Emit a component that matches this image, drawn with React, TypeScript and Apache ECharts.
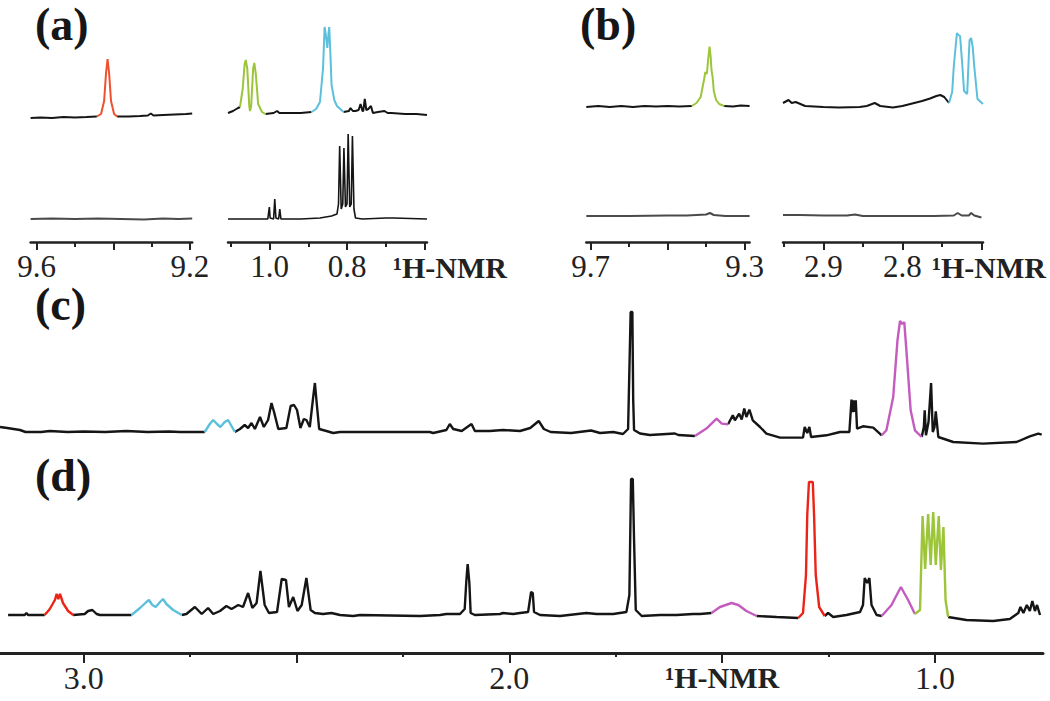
import React, { useEffect, useRef } from "react";
import * as echarts from "echarts";

// ---------------- DATA (ppm, relative intensity) ----------------
// (a) left window 9.616–9.194 ppm
const aLeftTopBlack1 = [[9.616,0],[9.59,0.5],[9.56,0],[9.53,1],[9.5,0.5],[9.47,1],[9.443,1.5]];
const aLeftTopRed = [[9.443,1.5],[9.432,4],[9.424,17],[9.419,45],[9.415,59],[9.411,45],[9.406,17],[9.398,4],[9.39,1.5]];
const aLeftTopBlack2 = [[9.39,1.5],[9.36,1.5],[9.33,2],[9.31,2.5],[9.302,4.5],[9.295,2.5],[9.27,3],[9.24,3.5],[9.21,4],[9.194,4.5]];
const aLeftBottom = [[9.616,0],[9.56,0.5],[9.5,0],[9.44,0.5],[9.38,0],[9.32,-0.5],[9.27,0.5],[9.23,0],[9.194,0.5]];
// (a) right window 1.108–0.593 ppm
const aRightTopBlack1 = [[1.108,1],[1.095,3],[1.082,6],[1.077,7]];
const aRightTopGreen = [[1.077,7],[1.07,25],[1.065,50],[1.062,54],[1.058,45],[1.053,8],[1.051,3],[1.048,8],[1.043,45],[1.04,51],[1.036,40],[1.03,10],[1.02,2],[1.011,0]];
const aRightTopBlack2 = [[1.011,0],[0.99,1],[0.981,3],[0.975,1],[0.95,1],[0.92,1],[0.892,2]];
const aRightTopCyan = [[0.892,2],[0.88,5],[0.87,12],[0.862,46],[0.858,87],[0.855,80],[0.851,66],[0.848,80],[0.846,87],[0.843,60],[0.84,29],[0.833,14],[0.826,8],[0.809,2]];
const aRightTopBlack3 = [[0.809,2],[0.795,3],[0.791,6],[0.785,3],[0.778,3],[0.77,4],[0.765,10],[0.76,3],[0.758,3],[0.754,15],[0.75,4],[0.745,5],[0.738,8],[0.733,1],[0.72,2],[0.703,3],[0.695,1],[0.685,1],[0.65,0],[0.62,0],[0.593,-1]];
const aRightBottom = [[1.108,0],[1.05,0],[1.005,0],[1.001,12],[0.999,1],[0.99,0],[0.987,20],[0.984,1],[0.977,0],[0.974,10],[0.971,0],[0.92,0],[0.87,1],[0.84,3],[0.826,5],[0.822,15],[0.819,73],[0.815,10],[0.811,15],[0.808,71],[0.804,12],[0.8,15],[0.797,85],[0.793,12],[0.789,15],[0.786,83],[0.782,10],[0.778,1],[0.76,0],[0.7,1],[0.68,1],[0.593,0]];
// (b) left window 9.711–9.287 ppm
const bLeftTopBlack1 = [[9.711,0],[9.68,1],[9.65,0],[9.62,1],[9.59,0],[9.56,1],[9.53,0.5],[9.5,1],[9.47,0.5],[9.437,1]];
const bLeftTopGreen = [[9.437,1],[9.425,4],[9.414,10],[9.405,28],[9.402,35],[9.398,33],[9.394,50],[9.391,60.5],[9.388,50],[9.386,37],[9.383,30],[9.38,16],[9.374,7],[9.366,3],[9.353,1]];
const bLeftTopBlack2 = [[9.353,1],[9.33,0.5],[9.31,1.5],[9.287,1]];
const bLeftBottom = [[9.711,0],[9.6,0],[9.5,0.5],[9.45,0.5],[9.4,1.5],[9.39,3],[9.38,1],[9.35,0],[9.287,0]];
// (b) right window 2.951–2.698 ppm
const bRightTopBlack = [[2.951,4],[2.944,7],[2.94,4],[2.935,5],[2.923,1],[2.9,0],[2.88,-0.5],[2.854,0],[2.845,1],[2.835,4],[2.828,1],[2.812,-0.5],[2.8,1],[2.79,3],[2.775,6],[2.765,8.5],[2.757,11],[2.752,12],[2.747,10],[2.744,7],[2.741,4]];
const bRightTopCyan = [[2.741,4],[2.737,15],[2.735,40],[2.731,74],[2.729,72],[2.727,71],[2.724,40],[2.722,16],[2.718,13],[2.716,50],[2.715,67],[2.713,69],[2.711,60],[2.709,40],[2.705,8],[2.698,3]];
const bRightBottom = [[2.951,1],[2.93,1],[2.9,0.5],[2.87,0.5],[2.86,1.5],[2.85,0],[2.8,0],[2.76,0],[2.735,0.5],[2.73,3],[2.725,0.5],[2.716,0.5],[2.713,3],[2.709,0.5],[2.7,-1.5]];
// (c) 3.197–0.746 ppm
const cBlack1 = [[3.197,5],[3.18,4],[3.15,2],[3.137,0],[3.1,0],[3.08,1],[3.038,0],[3.0,0.5],[2.95,0],[2.9,1],[2.85,0],[2.8,0.5],[2.774,0],[2.74,0],[2.716,0]];
const cCyan = [[2.716,0],[2.704,8],[2.696,12],[2.687,8],[2.679,5],[2.669,10],[2.661,12],[2.653,6],[2.645,0]];
const cBlack2 = [[2.645,0],[2.633,3],[2.622,7],[2.614,4],[2.606,9],[2.598,3],[2.586,15],[2.577,5],[2.567,12],[2.559,29],[2.553,20],[2.543,3],[2.524,4],[2.514,26],[2.506,27],[2.499,22],[2.491,4],[2.483,13],[2.477,12],[2.469,5],[2.461,35],[2.457,49],[2.453,30],[2.447,3],[2.43,1],[2.414,-1],[2.398,0],[2.3,0],[2.187,0],[2.179,-1],[2.148,2],[2.14,8],[2.132,3],[2.112,1],[2.089,8],[2.081,1],[2.046,1],[2.015,2],[1.975,1],[1.951,4],[1.931,11],[1.919,3],[1.903,0],[1.855,-1],[1.808,1.5],[1.787,-1],[1.756,0],[1.733,-2],[1.721,3],[1.715,120],[1.711,120],[1.709,32],[1.707,2],[1.693,-1.5],[1.67,-3],[1.611,-1.5],[1.603,-3],[1.564,-4]];
const cMagenta1 = [[1.564,-4],[1.537,3.4],[1.513,13.4],[1.501,8.4],[1.486,7.7]];
const cBlack3 = [[1.486,7.7],[1.475,16.7],[1.47,11.7],[1.46,18.4],[1.454,12.4],[1.448,23.4],[1.443,15],[1.436,22.4],[1.428,11.7],[1.411,5],[1.396,-1.6],[1.364,-5.6],[1.31,-5.6],[1.306,5],[1.3,-1],[1.295,5],[1.291,-5],[1.255,-3.3],[1.223,0],[1.201,0],[1.196,32.4],[1.193,20],[1.19,31.7],[1.188,20],[1.186,31.7],[1.183,3.4],[1.169,5.7],[1.145,4.4],[1.125,-3.3]];
const cMagenta2 = [[1.125,-3.3],[1.114,1.7],[1.098,35],[1.088,91.7],[1.082,111],[1.077,108],[1.072,110],[1.067,81.7],[1.057,21.7],[1.047,1.7],[1.031,-5]];
const cBlack4 = [[1.031,-5],[1.026,5],[1.024,21.7],[1.021,-3.3],[1.015,10],[1.009,49],[1.005,0],[1.001,5],[0.998,20.7],[0.992,-5],[0.957,-10],[0.887,-11.6],[0.808,-10],[0.777,-4.3],[0.757,-1.6],[0.749,-2.6]];
// (d) 3.197–0.746 ppm
const dBlack1 = [[3.178,0],[3.139,0],[3.135,2],[3.131,0],[3.092,0]];
const dRed1 = [[3.092,0],[3.08,6],[3.068,15],[3.064,21],[3.06,16],[3.056,21],[3.049,12],[3.037,4],[3.025,0]];
const dBlack2 = [[3.025,0],[2.998,1],[2.99,4],[2.98,5],[2.97,1],[2.962,0],[2.92,0],[2.888,0]];
const dCyan = [[2.888,0],[2.868,7],[2.853,13],[2.847,15],[2.839,10],[2.831,8],[2.821,13],[2.814,16],[2.806,11],[2.79,5],[2.77,0]];
const dBlack3 = [[2.77,0],[2.759,1],[2.739,8],[2.723,1],[2.708,7],[2.696,1],[2.68,4],[2.665,9],[2.653,6],[2.637,10],[2.626,8],[2.614,22],[2.604,7],[2.594,12],[2.585,44],[2.575,10],[2.565,2],[2.546,3],[2.535,36],[2.525,35],[2.518,8],[2.508,18],[2.498,4],[2.488,10],[2.477,37],[2.467,5],[2.457,2],[2.438,1],[2.418,2],[2.398,0],[2.367,-1],[2.351,0],[2.21,-1],[2.163,0],[2.148,1],[2.116,1],[2.105,6],[2.101,35],[2.098,51],[2.094,32],[2.091,2],[2.081,0],[2.022,1],[2.015,2],[1.991,1],[1.975,2],[1.956,3],[1.949,23],[1.945,22],[1.942,3],[1.928,0],[1.881,-1],[1.819,2],[1.795,1],[1.756,1],[1.725,3],[1.718,20],[1.714,136],[1.71,136],[1.707,75],[1.703,5],[1.689,-1],[1.646,0],[1.607,0],[1.568,1],[1.552,1],[1.525,2]];
const dMagenta1 = [[1.525,2],[1.505,8],[1.478,12],[1.462,10],[1.443,4],[1.419,-1]];
const dBlack4 = [[1.419,-1],[1.372,-2],[1.321,-3]];
const dRed2 = [[1.321,-3],[1.31,2],[1.303,40],[1.3,100],[1.296,133],[1.287,133],[1.284,100],[1.28,40],[1.272,8],[1.259,-1]];
const dBlack5 = [[1.259,-1],[1.251,2],[1.239,-2],[1.208,0],[1.176,3],[1.169,10],[1.165,37],[1.159,32],[1.154,37],[1.149,10],[1.137,0],[1.125,-1]];
const dMagenta2 = [[1.125,-1],[1.102,10],[1.08,28],[1.063,15],[1.047,1]];
const dGreen = [[1.047,1],[1.035,5],[1.029,99],[1.023,46],[1.016,101],[1.01,50],[1.004,103],[0.998,50],[0.991,99],[0.986,45],[0.98,88],[0.975,15],[0.969,-2]];
const dBlack6 = [[0.969,-2],[0.926,-5],[0.863,-6],[0.824,-4],[0.804,2],[0.799,8],[0.792,2],[0.784,10],[0.777,4],[0.771,14],[0.765,4],[0.76,10],[0.753,0]];

// ---------------- TICKS ----------------
const aLeftMajor = [9.6, 9.4, 9.2];
const aLeftMinor = [9.5, 9.3];
const aLeftLabels = [9.6, 9.2];
const aRightMajor = [1.0, 0.8, 0.6];
const aRightMinor = [1.1, 0.9, 0.7];
const aRightLabels = [1.0, 0.8];
const bLeftMajor = [9.7, 9.5, 9.3];
const bLeftMinor = [9.6, 9.4];
const bLeftLabels = [9.7, 9.3];
const bRightMajor = [2.9, 2.8, 2.7];
const bRightMinor = [2.95, 2.85, 2.75];
const bRightLabels = [2.9, 2.8];
const cdMajor = [3.0, 2.5, 2.0, 1.5, 1.0];
const cdMinor = [2.75, 2.25, 1.75, 1.25];
const cdLabels = [3.0, 2.0, 1.5, 1.0];
const AXIS_TITLE = "¹H-NMR";
const panelLetters = ["(a)", "(b)", "(c)", "(d)"];

// ---------------- STYLE ----------------
const FONT = "Liberation Serif";
const BLACK = "#151515";
const GRAY = "#4a4a4a";
const RED_A = "#f0502e";
const RED_D = "#ec2418";
const GREEN = "#9cc53a";
const CYAN = "#5cc0dc";
const MAGENTA = "#c45cbf";

type Seg = [number[][], string];
interface Panel { left: number; width: number; min: number; max: number; base: number; h: number; segs: Seg[]; lw?: number }
interface AxisSpec { left: number; width: number; min: number; max: number; y: number; major: number[]; minor: number[]; labels: number[]; fs: number; majLen: number; minLen: number; lw: number }

const A_L = { left: 30.6, width: 161.6, min: 9.194, max: 9.616 };
const A_R = { left: 228, width: 199, min: 0.593, max: 1.108 };
const B_L = { left: 586.3, width: 163.3, min: 9.287, max: 9.711 };
const B_R = { left: 783, width: 200, min: 2.698, max: 2.951 };
const CD = { left: 0, width: 1043, min: 0.746, max: 3.197 };

const panels: Panel[] = [
  { ...A_L, base: 118, h: 60, segs: [[aLeftTopBlack1, BLACK], [aLeftTopRed, RED_A], [aLeftTopBlack2, BLACK]] },
  { ...A_L, base: 219, h: 10, segs: [[aLeftBottom, GRAY]] },
  { ...A_R, base: 114, h: 90, segs: [[aRightTopBlack1, BLACK], [aRightTopGreen, GREEN], [aRightTopBlack2, BLACK], [aRightTopCyan, CYAN], [aRightTopBlack3, BLACK]] },
  { ...A_R, base: 219, h: 90, segs: [[aRightBottom, BLACK]], lw: 1.6 },
  { ...B_L, base: 107, h: 61, segs: [[bLeftTopBlack1, BLACK], [bLeftTopGreen, GREEN], [bLeftTopBlack2, BLACK]] },
  { ...B_L, base: 216, h: 10, segs: [[bLeftBottom, GRAY]] },
  { ...B_R, base: 107, h: 75, segs: [[bRightTopBlack, BLACK], [bRightTopCyan, CYAN]] },
  { ...B_R, base: 216, h: 10, segs: [[bRightBottom, GRAY]] },
  { ...CD, base: 432, h: 121, lw: 2.4, segs: [[cBlack1, BLACK], [cCyan, CYAN], [cBlack2, BLACK], [cMagenta1, MAGENTA], [cBlack3, BLACK], [cMagenta2, MAGENTA], [cBlack4, BLACK]] },
  { ...CD, base: 615, h: 136, lw: 2.4, segs: [[dBlack1, BLACK], [dRed1, RED_D], [dBlack2, BLACK], [dCyan, CYAN], [dBlack3, BLACK], [dMagenta1, MAGENTA], [dBlack4, BLACK], [dRed2, RED_D], [dBlack5, BLACK], [dMagenta2, MAGENTA], [dGreen, GREEN], [dBlack6, BLACK]] },
];

const axes: AxisSpec[] = [
  { ...A_L, y: 242, major: aLeftMajor, minor: aLeftMinor, labels: aLeftLabels, fs: 31, majLen: 8, minLen: 5, lw: 2.5 },
  { ...A_R, y: 242, major: aRightMajor, minor: aRightMinor, labels: aRightLabels, fs: 31, majLen: 8, minLen: 5, lw: 2.5 },
  { ...B_L, y: 242, major: bLeftMajor, minor: bLeftMinor, labels: bLeftLabels, fs: 31, majLen: 8, minLen: 5, lw: 2.5 },
  { ...B_R, y: 242, major: bRightMajor, minor: bRightMinor, labels: bRightLabels, fs: 31, majLen: 8, minLen: 5, lw: 2.5 },
  { ...CD, y: 653, major: cdMajor, minor: cdMinor, labels: cdLabels, fs: 32, majLen: 10, minLen: 4, lw: 3 },
];

function buildOption() {
  const grid: any[] = [];
  const xAxis: any[] = [];
  const yAxis: any[] = [];
  const series: any[] = [];

  panels.forEach((p) => {
    const gi = grid.length;
    grid.push({ left: p.left, top: p.base - p.h, width: p.width, height: p.h });
    const xi = xAxis.length;
    xAxis.push({ type: "value", gridIndex: gi, min: p.min, max: p.max, inverse: true, show: false });
    const yi = yAxis.length;
    yAxis.push({ type: "value", gridIndex: gi, min: 0, max: p.h, show: false });
    p.segs.forEach(([data, color]) => {
      series.push({
        type: "line", xAxisIndex: xi, yAxisIndex: yi, data, symbol: "none", showSymbol: false,
        clip: false, silent: true, smooth: false,
        lineStyle: { color, width: p.lw ?? 2 }, z: color === BLACK || color === GRAY ? 2 : 3,
      });
    });
  });

  axes.forEach((a) => {
    const gi = grid.length;
    grid.push({ left: a.left, top: a.y - 10, width: a.width, height: 10 });
    yAxis.push({ type: "value", gridIndex: gi, min: 0, max: 1, show: false });
    const common = { type: "value", gridIndex: gi, min: a.min, max: a.max, inverse: true, position: "bottom", splitLine: { show: false } };
    xAxis.push({
      ...common,
      axisLine: { show: true, onZero: false, lineStyle: { color: "#222", width: a.lw } },
      axisTick: { show: true, customValues: a.major, length: a.majLen, lineStyle: { color: "#222", width: 2 } },
      axisLabel: {
        show: true, customValues: a.labels, margin: 9, color: "#222", fontSize: a.fs, fontFamily: FONT,
        formatter: (v: number) => (Math.abs(v - 1.5) < 1e-9 ? "{t|" + AXIS_TITLE + "}" : "{n|" + v.toFixed(1) + "}"),
        rich: {
          t: { fontSize: 30, fontWeight: "bold", fontFamily: FONT, color: "#222" },
          n: { fontSize: a.fs, fontFamily: FONT, color: "#222" },
        },
      },
    });
    xAxis.push({
      ...common,
      axisLine: { show: false, onZero: false },
      axisTick: { show: true, customValues: a.minor, length: a.minLen, lineStyle: { color: "#222", width: 2 } },
      axisLabel: { show: false },
    });
  });

  const letterPos = [[35, 1], [580, 1], [35, 281], [35, 452]];
  const graphic: any[] = panelLetters.map((t, i) => ({
    type: "text", left: letterPos[i][0], top: letterPos[i][1],
    style: { text: t, fontSize: 46, fontWeight: "bold", fontFamily: FONT, fill: "#161616" },
  }));
  [[393, 252], [932, 252]].forEach(([x, y]) => {
    graphic.push({ type: "text", left: x, top: y, style: { text: AXIS_TITLE, fontSize: 30, fontWeight: "bold", fontFamily: FONT, fill: "#222" } });
  });

  return { animation: false, backgroundColor: "#ffffff", grid, xAxis, yAxis, series, graphic };
}

export default function App() {
  const ref = useRef<HTMLDivElement>(null);
  useEffect(() => {
    if (!ref.current) return;
    const chart = echarts.init(ref.current, undefined, { renderer: "svg" });
    chart.setOption(buildOption() as any);
    return () => chart.dispose();
  }, []);
  return (
    <div style={{ position: "fixed", left: 0, top: 0, width: 1050, height: 701, background: "#fff" }}>
      <div ref={ref} style={{ width: 1050, height: 701 }} />
    </div>
  );
}
